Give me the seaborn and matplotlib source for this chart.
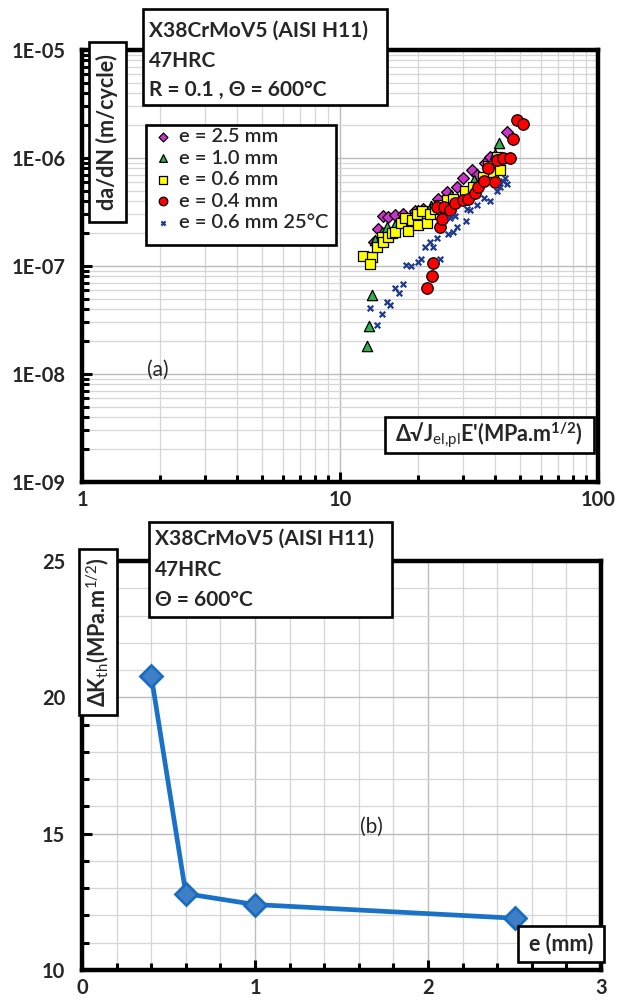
import matplotlib
matplotlib.use('Agg')
import matplotlib.pyplot as plt
import matplotlib.ticker as mticker
from matplotlib.patches import Rectangle
import seaborn as sns

# --- data ---
# (a) da/dN vs sqrt(J E'), log-log
e25_x = [13.5, 14.0, 14.7, 15.4, 16.3, 17.6, 19.5, 21.0, 24.0, 25.9, 28.3, 30.0, 32.4, 34.0, 36.5, 38.1, 44.3]
e25_y = [1.66e-7, 2.2e-7, 2.9e-7, 2.84e-7, 2.94e-7, 3.05e-7, 3.2e-7, 3.4e-7, 4.2e-7, 4.8e-7, 5.4e-7, 6.5e-7,
         7.7e-7, 7.0e-7, 9.0e-7, 1.03e-6, 1.75e-6]

e10_x = [12.7, 13.0, 13.3, 13.7, 14.5, 15.2, 16.3, 18.0, 20.1, 22.5, 27.0, 33.0, 40.0, 41.3]
e10_y = [1.8e-8, 2.8e-8, 5.4e-8, 1.75e-7, 2.06e-7, 2.3e-7, 2.4e-7, 2.8e-7, 3.3e-7, 3.6e-7, 4.5e-7, 6.2e-7,
         1.1e-6, 1.38e-6]

e06_x = [12.3, 13.3, 13.1, 13.9, 14.6, 14.7, 15.4, 15.9, 16.3, 17.3, 17.8, 18.4, 19.0, 19.8, 20.1, 20.7,
         21.8, 22.3, 23.3, 24.4, 25.9, 27.3, 30.5, 32.9, 35.9, 37.6, 39.3, 40.5, 41.7]
e06_y = [1.25e-7, 1.2e-7, 1.05e-7, 1.49e-7, 1.85e-7, 1.66e-7, 1.85e-7, 2.0e-7, 2.06e-7, 2.5e-7, 2.8e-7,
         2.13e-7, 2.64e-7, 3.05e-7, 2.4e-7, 3.2e-7, 2.5e-7, 3.05e-7, 3.4e-7, 3.7e-7, 4.05e-7, 4.2e-7,
         5.0e-7, 5.4e-7, 6.7e-7, 8.5e-7, 7.4e-7, 1.03e-6, 7.7e-7]

e04_x = [21.7, 22.7, 23.0, 23.7, 24.4, 24.8, 25.2, 26.7, 27.9, 30.1, 31.4, 33.4, 34.4, 36.2, 37.3, 39.9,
         40.5, 42.9, 45.6, 47.0, 48.4, 51.4]
e04_y = [6.2e-8, 8.1e-8, 1.06e-7, 3.5e-7, 2.3e-7, 2.7e-7, 3.5e-7, 3.3e-7, 3.8e-7, 4.05e-7, 4.2e-7, 4.7e-7,
         5.4e-7, 6.1e-7, 8.1e-7, 6.0e-7, 9.5e-7, 9.9e-7, 9.9e-7, 1.5e-6, 2.25e-6, 2.05e-6]

e06rt_x = [13.1, 13.9, 14.5, 15.2, 15.6, 16.3, 16.9, 17.6, 18.1, 18.9, 20.1, 20.6, 21.4, 22.3, 23.0, 23.7,
           24.4, 26.3, 26.7, 27.3, 28.0, 28.4, 30.8, 31.0, 32.0, 33.9, 36.0, 38.1, 40.5, 41.7, 42.9, 43.5, 44.3]
e06rt_y = [4.1e-8, 2.85e-8, 3.6e-8, 4.65e-8, 4.4e-8, 6.2e-8, 5.6e-8, 6.8e-8, 1.03e-7, 1.0e-7, 1.1e-7,
           1.17e-7, 1.49e-7, 1.66e-7, 1.49e-7, 1.8e-7, 1.15e-7, 1.98e-7, 2.8e-7, 2.06e-7, 2.9e-7, 2.3e-7,
           2.6e-7, 3.4e-7, 3.3e-7, 3.7e-7, 4.3e-7, 4.0e-7, 5.0e-7, 5.4e-7, 6.1e-7, 6.5e-7, 5.7e-7]

# (b) threshold vs thickness
e_mm = [0.4, 0.6, 1.0, 2.5]
dk_th = [20.8, 12.8, 12.4, 11.9]

W, H = 621, 1001

sns.set_style('white')
plt.rcParams['font.family'] = ['Lato', 'DejaVu Sans']
plt.rcParams['mathtext.fontset'] = 'custom'
plt.rcParams['mathtext.rm'] = 'Lato'
plt.rcParams['mathtext.bf'] = 'Lato:bold'
plt.rcParams['mathtext.it'] = 'Lato:italic'

fig = plt.figure(figsize=(W / 100, H / 100), dpi=100)


def fx(px):
    return px / W


def fy(py):
    return 1 - py / H


def box(x0, y0, x1, y1):
    fig.add_artist(Rectangle((fx(x0), fy(y1)), fx(x1) - fx(x0), fy(y0) - fy(y1),
                             transform=fig.transFigure, facecolor='white',
                             edgecolor='black', lw=1.9, zorder=5))


def label(px, py, s, **kw):
    kw.setdefault('fontsize', 14.5)
    kw.setdefault('fontweight', 'bold')
    fig.text(fx(px), fy(py), s, zorder=6, **kw)


ax1 = fig.add_axes([fx(82), fy(482), fx(598) - fx(82), fy(50) - fy(482)])
ax2 = fig.add_axes([fx(82), fy(970), fx(601) - fx(82), fy(561) - fy(970)])

# ---- top panel ----
kw = dict(ax=ax1, edgecolor='black', linewidth=0.9, zorder=3)
sns.scatterplot(x=e25_x, y=e25_y, marker='D', s=36, color='#cc33cc', label='e = 2.5 mm', **kw)
sns.scatterplot(x=e10_x, y=e10_y, marker='^', s=55, color='#2db34a', label='e = 1.0 mm', **kw)
sns.scatterplot(x=e06_x, y=e06_y, marker='s', s=52, color='#ffff00', label='e = 0.6 mm', **kw)
sns.scatterplot(x=e04_x, y=e04_y, marker='o', s=68, color='#ff0000', label='e = 0.4 mm', **kw)
sns.scatterplot(x=e06rt_x, y=e06rt_y, marker='x', s=16, color='#1f3a8a', linewidth=1.6,
                label='e = 0.6 mm 25°C', ax=ax1, zorder=3)

ax1.set_xscale('log')
ax1.set_yscale('log')
ax1.set_xlim(1, 100)
ax1.set_ylim(1e-9, 1e-5)
ax1.yaxis.set_major_formatter(mticker.FuncFormatter(lambda v, p: f'{v:.0E}'))
ax1.xaxis.set_major_formatter(mticker.FuncFormatter(lambda v, p: f'{v:g}'))
ax1.xaxis.set_minor_formatter(mticker.NullFormatter())
ax1.yaxis.set_minor_formatter(mticker.NullFormatter())
ax1.yaxis.set_minor_locator(mticker.LogLocator(base=10, subs=range(2, 10), numticks=20))
ax1.xaxis.set_minor_locator(mticker.LogLocator(base=10, subs=range(2, 10), numticks=20))

h, l = ax1.get_legend_handles_labels()
if ax1.get_legend():
    ax1.get_legend().remove()

# ---- bottom panel ----
sns.lineplot(x=e_mm, y=dk_th, ax=ax2, color='#1a72c8', lw=3.4, marker='D', markersize=11.5,
             markerfacecolor='#3e7fc6', markeredgecolor='#1a6cc0', markeredgewidth=2, zorder=3)
ax2.set_xlim(0, 3)
ax2.set_ylim(10, 25)
ax2.xaxis.set_major_locator(mticker.MultipleLocator(1))
ax2.xaxis.set_minor_locator(mticker.MultipleLocator(0.2))
ax2.yaxis.set_major_locator(mticker.MultipleLocator(5))
ax2.yaxis.set_minor_locator(mticker.MultipleLocator(1))

for ax in (ax1, ax2):
    ax.set_axisbelow(True)
    ax.grid(which='major', color='#bcbcbc', lw=1.0)
    ax.grid(which='minor', color='#d6d6d6', lw=0.9)
    for sp in ax.spines.values():
        sp.set_linewidth(3.2)
        sp.set_color('black')
    ax.tick_params(which='both', direction='in', left=True, bottom=True, top=False, right=False,
                   color='black')
    ax.tick_params(which='major', length=7, width=2.2, labelsize=14.5)
    ax.tick_params(which='minor', length=5, width=2.2)
    ax.tick_params(axis='y', pad=12)
    ax.tick_params(axis='x', pad=6)
    for t in ax.get_xticklabels() + ax.get_yticklabels():
        t.set_fontweight('bold')
    ax.set_xlabel('')
    ax.set_ylabel('')

# ---- annotation boxes, top ----
box(143, 9, 387, 105)
label(149, 31, 'X38CrMoV5 (AISI H11)', va='center', fontsize=15)
label(149, 61, '47HRC', va='center', fontsize=15)
label(149, 90, 'R = 0.1 , Θ = 600°C', va='center', fontsize=15)

box(89, 42, 126, 222)
label(107, 132, 'da/dN (m/cycle)', rotation=90, ha='center', va='center', fontsize=15.5)

box(146, 125, 336, 245)
fig.legend(h, l, loc='upper left', bbox_to_anchor=(fx(152), fy(126)), bbox_transform=fig.transFigure,
           frameon=False, borderaxespad=0, borderpad=0.1, labelspacing=0.22, handletextpad=0.35,
           handlelength=0.9, markerscale=0.75, prop={'size': 14.5, 'weight': 'semibold'}).set_zorder(7)

label(158, 370, '(a)', ha='center', va='center', fontweight='normal', fontsize=15)

box(385, 417, 594, 453)
label(489, 436, "Δ√J$_{\\mathrm{el{,}pl}}$E'(MPa.m$^{\\mathbf{1/2}}$)", ha='center', va='center', fontsize=15.5)

# ---- annotation boxes, bottom ----
box(149, 522, 392, 617)
label(155, 539, 'X38CrMoV5 (AISI H11)', va='center', fontsize=15)
label(155, 570, '47HRC', va='center', fontsize=15)
label(155, 600, 'Θ = 600°C', va='center', fontsize=15)

box(79, 549, 117, 715)
label(98, 632, 'ΔK$_{\\mathrm{th}}$(MPa.m$^{\\mathrm{1/2}}$)', rotation=90, ha='center', va='center', fontsize=15.5)

label(371, 827, '(b)', ha='center', va='center', fontweight='normal', fontsize=15)

box(518, 926, 604, 962)
label(561, 944, 'e (mm)', ha='center', va='center', fontsize=15.5)

fig.savefig('out.png', dpi=100)
